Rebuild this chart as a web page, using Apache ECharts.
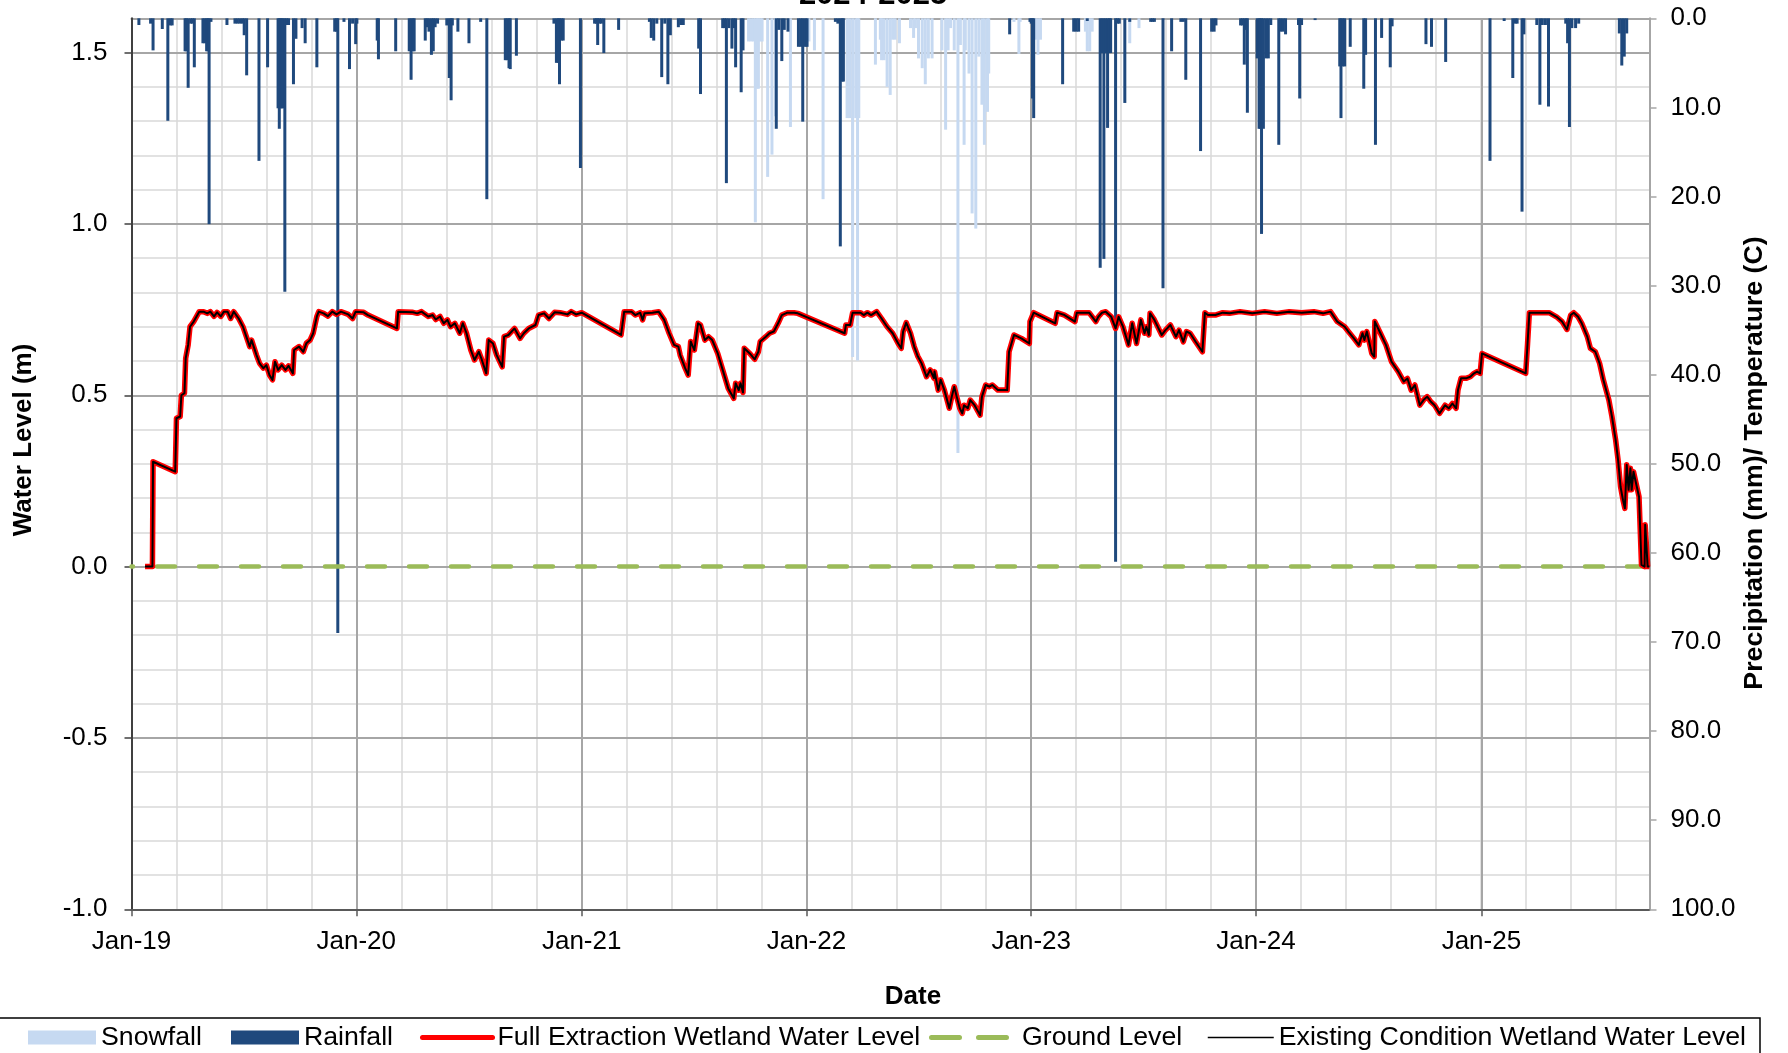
<!DOCTYPE html>
<html>
<head>
<meta charset="utf-8">
<title>Wetland Water Level 2024-2025</title>
<script src="https://cdn.jsdelivr.net/npm/echarts@6/dist/echarts.min.js"></script>
<style>
  html, body { margin: 0; padding: 0; background: #ffffff; }
  #chart { width: 1788px; height: 1053px; }
</style>
</head>
<body>
<div id="chart"></div>
<script>
// Dates are stored as day offsets from 1 Jan 2019.
const START = Date.UTC(2019, 0, 1);
const DAY_MS = 86400000;
const lastDay = 2465;                                   // end of record, early Oct 2025
const yearStartDays = [0, 365, 731, 1096, 1461, 1826, 2192]; // Jan-19 ... Jan-25
const levelTicks = [-1, -0.5, 0, 0.5, 1, 1.5];
const MONTHS = ['Jan','Feb','Mar','Apr','May','Jun','Jul','Aug','Sep','Oct','Nov','Dec'];

// Daily snowfall [day, mm]
const snowfall = [
  [1002,2.6],[1006,2.6],[1010,2.6],[1013,22.9],[1016,7.9],[1018,7.9],[1021,2.6],[1024,2.6],
  [1033,17.8],[1040,15.3],[1046,11.0],[1070,12.2],[1100,2.6],[1109,3.6],[1123,20.3],
  [1162,11.2],[1166,11.2],[1171,38.0],[1176,11.2],[1179,38.4],[1181,11.2],
  [1208,5.2],[1216,2.4],[1218,4.7],[1222,4.7],[1227,7.7],[1232,8.6],[1236,2.4],[1240,2.4],
  [1247,2.8],[1265,1.1],[1270,2.2],[1273,1.1],[1278,4.5],[1284,5.6],[1289,7.4],[1294,4.5],[1300,4.5],
  [1316,3.6],[1322,12.5],[1326,3.6],[1330,1.1],[1336,3.6],[1342,48.8],[1346,3.0],[1352,14.2],[1354,3.6],
  [1360,6.2],[1365,21.9],[1371,23.6],[1376,4.3],[1381,9.7],[1385,14.2],[1390,10.5],[1392,6.2],
  [1433,0.4],[1441,4.0],[1443,0.4],[1468,2.4],[1472,4.1],[1476,2.4],
  [1549,1.5],[1552,3.7],[1556,3.7],[1560,1.5],[1621,2.8],[1636,1.1]
];

// Daily rainfall [day, mm]
const rainfall = [
  [12,0.75],[31,0.6],[35,3.6],[50,1.2],[59,11.5],[63,0.8],[66,0.8],[87,3.7],[89,3.7],[92,7.8],
  [96,0.6],[99,0.6],[102,5.5],[116,2.8],[119,2.8],[122,3.7],[124,3.7],[126,23.1],[129,0.4],
  [155,0.75],[168,0.6],[172,0.6],[176,0.6],[180,0.6],[183,1.9],[187,6.4],[207,16.0],[221,5.5],
  [238,10.1],[240,12.4],[242,10.1],[244,10.1],[246,10.1],[249,30.7],[252,0.75],[255,0.75],
  [263,7.4],[267,2.3],[277,1.1],[282,2.8],[301,5.5],[330,1.5],[333,1.5],[335,69.0],[345,0.4],
  [354,5.7],[359,0.6],[364,2.9],[366,0.6],[399,2.5],[401,4.6],[429,3.7],[451,3.7],[454,6.9],
  [457,3.7],[459,3.7],[477,2.5],[480,1.0],[483,1.5],[487,4.1],[490,3.7],[493,1.0],[497,0.6],
  [512,0.8],[516,6.7],[519,9.2],[521,0.8],[530,1.5],[548,2.8],[567,0.4],[577,20.3],
  [607,4.7],[610,4.7],[613,5.6],[615,5.7],[625,4.2],[686,0.6],[690,5.0],[693,5.0],[695,7.4],
  [698,2.5],[701,2.5],[729,16.8],[752,0.6],[755,0.6],[757,3.0],[760,0.6],[763,0.6],[767,3.9],
  [791,1.3],[841,0.4],[844,2.2],[848,2.5],[853,0.6],[861,6.6],[866,0.6],[871,7.4],[875,1.9],
  [888,1.0],[892,0.75],[896,0.75],[921,3.4],[924,8.5],[960,1.1],[963,1.1],[966,18.5],[970,1.1],
  [975,3.4],[978,1.1],[981,5.5],[990,8.3],[993,3.6],[1047,12.4],[1051,1.3],[1056,4.8],[1060,1.3],
  [1066,1.5],[1083,3.2],[1087,3.2],[1090,11.6],[1094,3.2],[1097,3.2],[1143,0.4],[1147,0.6],
  [1151,25.6],[1154,7.1],[1156,7.1],[1426,1.8],[1459,0.4],[1461,0.6],[1463,9.0],[1465,11.2],
  [1512,7.4],[1530,1.5],[1534,1.5],[1538,1.5],[1552,0.3],[1573,28.0],[1576,3.9],[1579,27.0],
  [1582,3.9],[1585,12.3],[1588,3.9],[1590,3.9],[1598,61.0],[1601,0.6],[1604,0.6],[1613,9.5],
  [1621,0.4],[1655,0.4],[1658,0.4],[1661,0.4],[1675,30.3],[1689,3.7],[1704,0.4],[1708,0.4],
  [1712,6.9],[1736,14.9],[1754,1.5],[1758,1.5],[1761,0.8],[1801,0.8],[1804,0.8],[1807,5.2],
  [1810,1.3],[1812,10.6],[1828,4.5],[1831,12.4],[1833,12.4],[1835,24.2],[1838,12.4],[1842,4.5],
  [1846,4.5],[1850,0.75],[1863,14.2],[1866,1.5],[1870,1.5],[1874,1.8],[1895,0.75],[1897,9.0],
  [1900,0.75],[1922,0.2],[1962,5.4],[1964,11.2],[1967,5.4],[1970,5.4],[1979,3.2],[2001,7.9],
  [2004,4.1],[2020,14.2],[2030,2.2],[2044,5.5],[2047,0.9],[2102,2.9],[2111,3.2],[2134,4.9],
  [2206,16.0],[2229,0.3],[2243,6.7],[2247,0.6],[2250,0.6],[2258,21.7],[2261,1.8],[2282,0.75],
  [2287,9.7],[2291,0.75],[2296,0.75],[2301,9.9],[2329,0.6],[2332,2.8],[2335,12.2],[2339,1.1],
  [2345,1.1],[2350,0.6],[2416,1.7],[2420,5.3],[2424,4.3],[2428,1.7]
];

// Wetland water level under full extraction [day, m]
const fullExtractionLevel = [
  [22,0],[34,0],[35,0.306],[71,0.277],[73,0.433],[79,0.438],[81,0.5],[86,0.506],[88,0.608],
  [92,0.647],[95,0.7],[101,0.715],[110,0.744],[117,0.744],[123,0.739],[128,0.744],[134,0.73],
  [139,0.742],[145,0.73],[150,0.744],[156,0.744],[161,0.724],[166,0.744],[174,0.724],[181,0.7],
  [192,0.642],[195,0.661],[203,0.617],[208,0.593],[214,0.579],[219,0.588],[224,0.559],[229,0.545],
  [233,0.598],[238,0.574],[244,0.588],[250,0.574],[255,0.586],[262,0.564],[264,0.632],[272,0.642],
  [279,0.627],[284,0.652],[290,0.661],[295,0.681],[301,0.73],[304,0.744],[312,0.739],[319,0.731],
  [326,0.744],[333,0.736],[340,0.744],[352,0.736],[359,0.724],[364,0.744],[377,0.742],[384,0.734],
  [431,0.695],[433,0.744],[457,0.742],[464,0.739],[471,0.744],[482,0.73],[489,0.734],[494,0.721],
  [501,0.73],[507,0.71],[513,0.72],[518,0.7],[525,0.71],[533,0.681],[538,0.71],[544,0.681],
  [551,0.632],[557,0.603],[564,0.627],[568,0.608],[576,0.564],[580,0.661],[587,0.651],[593,0.617],
  [602,0.583],[605,0.671],[612,0.676],[622,0.695],[631,0.666],[637,0.681],[645,0.695],[656,0.705],
  [661,0.734],[670,0.739],[678,0.724],[687,0.742],[696,0.741],[708,0.736],[714,0.744],[722,0.736],
  [731,0.741],[795,0.676],[800,0.744],[812,0.744],[818,0.734],[826,0.741],[830,0.72],[833,0.739],
  [846,0.741],[856,0.744],[865,0.72],[873,0.681],[881,0.647],[888,0.642],[891,0.617],[899,0.579],
  [904,0.559],[908,0.657],[914,0.632],[920,0.71],[924,0.705],[931,0.661],[937,0.671],[943,0.661],
  [952,0.622],[960,0.574],[969,0.52],[978,0.491],[981,0.535],[986,0.515],[989,0.535],[993,0.508],
  [995,0.637],[1004,0.622],[1012,0.605],[1018,0.627],[1021,0.657],[1030,0.671],[1036,0.681],
  [1043,0.686],[1050,0.71],[1056,0.734],[1065,0.741],[1076,0.741],[1082,0.739],[1158,0.681],
  [1160,0.705],[1167,0.705],[1171,0.741],[1184,0.741],[1189,0.734],[1195,0.741],[1201,0.734],
  [1210,0.744],[1218,0.724],[1227,0.7],[1236,0.681],[1245,0.651],[1250,0.637],[1253,0.686],
  [1258,0.712],[1265,0.681],[1271,0.642],[1277,0.613],[1283,0.593],[1291,0.554],[1297,0.574],
  [1303,0.55],[1304,0.569],[1310,0.515],[1314,0.545],[1320,0.515],[1328,0.462],[1332,0.496],
  [1336,0.525],[1340,0.496],[1345,0.462],[1349,0.447],[1352,0.471],[1358,0.462],[1362,0.486],
  [1369,0.471],[1378,0.442],[1381,0.496],[1387,0.53],[1393,0.525],[1398,0.53],[1407,0.515],
  [1422,0.515],[1425,0.627],[1433,0.676],[1445,0.666],[1458,0.651],[1459,0.715],[1465,0.741],
  [1500,0.71],[1503,0.741],[1515,0.734],[1532,0.715],[1535,0.741],[1555,0.741],[1566,0.715],
  [1570,0.729],[1576,0.741],[1582,0.744],[1591,0.729],[1598,0.695],[1603,0.729],[1610,0.7],
  [1619,0.647],[1625,0.71],[1632,0.651],[1639,0.72],[1645,0.681],[1648,0.7],[1652,0.676],
  [1654,0.739],[1661,0.72],[1673,0.676],[1679,0.69],[1687,0.705],[1696,0.671],[1701,0.69],
  [1708,0.656],[1713,0.686],[1719,0.681],[1728,0.656],[1739,0.627],[1743,0.741],[1748,0.734],
  [1760,0.734],[1772,0.741],[1783,0.739],[1800,0.744],[1820,0.739],[1840,0.744],[1860,0.739],
  [1880,0.744],[1900,0.741],[1920,0.744],[1935,0.739],[1947,0.744],[1958,0.715],[1970,0.7],
  [1976,0.686],[1985,0.666],[1993,0.647],[1999,0.681],[2002,0.661],[2006,0.686],[2014,0.622],
  [2018,0.613],[2019,0.715],[2028,0.681],[2037,0.647],[2046,0.598],[2057,0.569],[2066,0.54],
  [2072,0.549],[2078,0.515],[2084,0.53],[2092,0.471],[2098,0.486],[2104,0.496],[2110,0.481],
  [2116,0.471],[2124,0.447],[2133,0.471],[2139,0.462],[2145,0.476],[2151,0.462],[2154,0.515],
  [2159,0.55],[2168,0.55],[2174,0.554],[2180,0.564],[2185,0.569],[2190,0.564],[2193,0.622],
  [2264,0.564],[2267,0.651],[2270,0.741],[2302,0.741],[2314,0.729],[2323,0.715],[2331,0.692],
  [2337,0.734],[2342,0.741],[2349,0.729],[2355,0.71],[2364,0.671],[2369,0.637],[2377,0.627],
  [2384,0.593],[2390,0.545],[2399,0.486],[2404,0.438],[2410,0.37],[2414,0.311],[2418,0.233],
  [2422,0.194],[2425,0.17],[2428,0.297],[2431,0.224],[2434,0.287],[2436,0.224],[2439,0.277],
  [2442,0.282],[2448,0.204],[2452,0.005],[2455,0],[2457,0],[2458,0.122],[2461,0.122],[2462,0],
  [2465,0]
];

// Existing condition level coincides with the full extraction level over this record
const existingLevel = fullExtractionLevel.map(p => p.slice());

// Ground surface reference
const groundLevel = [[0, 0], [lastDay, 0]];

const FONT = 'Liberation Sans';
const GRID_MAJOR = '#a6a6a6';
const GRID_MINOR = '#d9d9d9';

function dayLabel(v) {
  const d = new Date(START + Math.round(v) * DAY_MS);
  return MONTHS[d.getUTCMonth()] + '-' + String(d.getUTCFullYear()).slice(2);
}

const chart = echarts.init(document.getElementById('chart'), null, { renderer: 'canvas' });

const legendText = { color: '#000', fontSize: 26.7, fontFamily: FONT };
function legendFor(name, left, width, extra) {
  return Object.assign({
    data: [name], left: left, top: 1024, padding: 0, itemGap: 0,
    itemWidth: width, itemHeight: 14, selectedMode: false, textStyle: legendText
  }, extra || {});
}
// line entries show only the stroke, no point marker
const noMarker = { opacity: 0 };
// two rounded dashes for the ground level key
const dashPairIcon = 'path://M2.5,0 H30.5 A2.5,2.5 0 0 1 30.5,5 H2.5 A2.5,2.5 0 0 1 2.5,0 Z ' +
                     'M49.5,0 H77.5 A2.5,2.5 0 0 1 77.5,5 H49.5 A2.5,2.5 0 0 1 49.5,0 Z';

chart.setOption({
  animation: false,
  backgroundColor: '#ffffff',
  grid: { left: 131.5, right: 138.5, top: 18.3, bottom: 143.7, containLabel: false, outerBoundsMode: 'none' },
  legend: [
    legendFor('Snowfall', 28, 68, { icon: 'rect' }),
    legendFor('Rainfall', 231, 68, { icon: 'rect' }),
    legendFor('Full Extraction Wetland Water Level', 420, 70, { itemStyle: noMarker, lineStyle: { width: 5, cap: 'round' } }),
    legendFor('Ground Level', 929, 80, {
      icon: dashPairIcon, itemHeight: 5,
      textStyle: Object.assign({ padding: [0, 0, 0, 8] }, legendText)
    }),
    legendFor('Existing Condition Wetland Water Level', 1207, 66, { itemStyle: noMarker, lineStyle: { width: 1.5 } })
  ],
  xAxis: [
    {
      type: 'value', min: 0, max: lastDay, interval: 365.25, position: 'bottom', z: 1,
      axisLine: { show: true, onZero: false, lineStyle: { color: '#595959', width: 2 } },
      axisTick: { show: true, length: 7, customValues: yearStartDays, lineStyle: { color: '#595959', width: 1.5 } },
      axisLabel: { customValues: yearStartDays, formatter: dayLabel, margin: 20, color: '#000', fontSize: 26, fontFamily: FONT },
      splitLine: { show: true, lineStyle: { color: GRID_MAJOR, width: 2 } }
    },
    {
      // minor vertical grid, its axis line forms the top border
      type: 'value', min: 0, max: lastDay, interval: 73.05, position: 'top', z: 0,
      axisLine: { show: true, onZero: false, lineStyle: { color: GRID_MAJOR, width: 2 } },
      axisTick: { show: false }, axisLabel: { show: false },
      splitLine: { show: true, lineStyle: { color: GRID_MINOR, width: 1.5 } }
    }
  ],
  yAxis: [
    {
      type: 'value', min: -1, max: 1.6, interval: 0.5, position: 'left', z: 1,
      axisLine: { show: true, onZero: false, lineStyle: { color: '#404040', width: 2 } },
      axisTick: { show: true, length: 7, customValues: levelTicks, lineStyle: { color: '#404040', width: 1.5 } },
      axisLabel: { customValues: levelTicks, formatter: v => v.toFixed(1), margin: 24, color: '#000', fontSize: 26, fontFamily: FONT },
      splitLine: { show: true, lineStyle: { color: GRID_MAJOR, width: 2 } }
    },
    {
      type: 'value', min: 0, max: 100, interval: 10, inverse: true, position: 'right', z: 1,
      axisLine: { show: true, onZero: false, lineStyle: { color: GRID_MAJOR, width: 2 } },
      axisTick: { show: true, length: 7, lineStyle: { color: GRID_MAJOR, width: 1.5 } },
      axisLabel: { formatter: v => v.toFixed(1), margin: 21, color: '#000', fontSize: 26, fontFamily: FONT },
      splitLine: { show: false }
    },
    {
      // minor horizontal grid
      type: 'value', min: -1, max: 1.6, interval: 0.1, position: 'left', z: 0,
      axisLine: { show: false }, axisTick: { show: false }, axisLabel: { show: false },
      splitLine: { show: true, lineStyle: { color: GRID_MINOR, width: 1.5 } }
    }
  ],
  series: [
    {
      name: 'Snowfall', type: 'bar', xAxisIndex: 0, yAxisIndex: 1, data: snowfall,
      barWidth: 3, barGap: '-100%', itemStyle: { color: '#c6d9f1' }, z: 2
    },
    {
      name: 'Rainfall', type: 'bar', xAxisIndex: 0, yAxisIndex: 1, data: rainfall,
      barWidth: 3, barGap: '-100%', itemStyle: { color: '#1f497d' }, z: 2
    },
    {
      name: 'Ground Level', type: 'line', xAxisIndex: 0, yAxisIndex: 0, data: groundLevel,
      symbol: 'none', color: '#9bbb59', itemStyle: { color: '#9bbb59' },
      lineStyle: { color: '#9bbb59', width: 4.5, type: [18, 24], dashOffset: 16.5, cap: 'round' }, z: 3
    },
    {
      name: 'Full Extraction Wetland Water Level', type: 'line', xAxisIndex: 0, yAxisIndex: 0,
      data: fullExtractionLevel, symbol: 'none', color: '#ff0000',
      lineStyle: { color: '#ff0000', width: 5.5, join: 'round' }, z: 4
    },
    {
      name: 'Existing Condition Wetland Water Level', type: 'line', xAxisIndex: 0, yAxisIndex: 0,
      data: existingLevel, symbol: 'none', color: '#000000',
      lineStyle: { color: '#000000', width: 2, join: 'round' }, z: 5
    }
  ],
  graphic: [
    {
      type: 'text', x: 873, y: -4.6,
      style: { text: '2024-2025', fontSize: 31, fontWeight: 'bold', fontFamily: FONT, fill: '#000', align: 'center', verticalAlign: 'middle' }
    },
    {
      type: 'text', x: 24, y: 440, rotation: Math.PI / 2,
      style: { text: 'Water Level (m)', fontSize: 26, fontWeight: 'bold', fontFamily: FONT, fill: '#000', align: 'center', verticalAlign: 'middle' }
    },
    {
      type: 'text', x: 1755, y: 463, rotation: Math.PI / 2,
      style: { text: 'Precipitation (mm)/ Temperature (C)', fontSize: 26.7, fontWeight: 'bold', fontFamily: FONT, fill: '#000', align: 'center', verticalAlign: 'middle' }
    },
    {
      type: 'text', x: 913, y: 997,
      style: { text: 'Date', fontSize: 26, fontWeight: 'bold', fontFamily: FONT, fill: '#000', align: 'center', verticalAlign: 'middle' }
    },
    {
      type: 'rect', shape: { x: -2, y: 1018, width: 1762, height: 60 },
      style: { fill: 'none', stroke: '#000', lineWidth: 1.5 }
    }
  ]
});
</script>
</body>
</html>
